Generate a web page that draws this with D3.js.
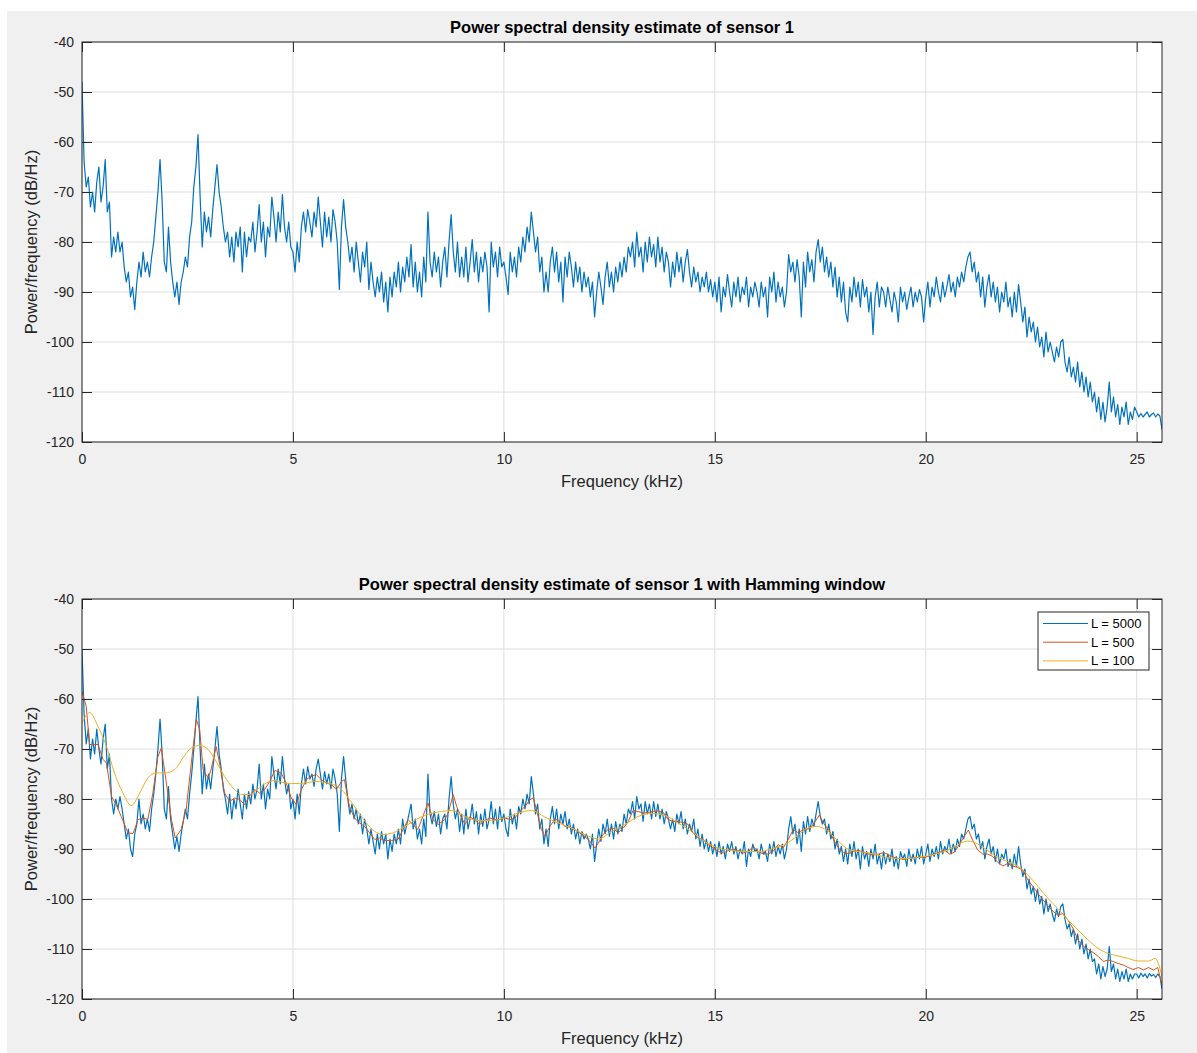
<!DOCTYPE html>
<html>
<head>
<meta charset="utf-8">
<script src="https://cdn.jsdelivr.net/npm/d3@7"></script>
<style>
body { margin: 0; background: #fff; }
text { font-family: "Liberation Sans", Arial, Helvetica, sans-serif; }
</style>
</head>
<body>
<svg id="fig" width="1197" height="1053"></svg>
<script>
// sampling step of the L = 5000 estimates (kHz)
var step5000 = 0.05;

// top panel: plain estimate, one row per kHz
var psdSensor1 = [
  -48, -64, -69, -67, -73, -70, -74, -68, -65, -72, -69, -63.5, -74, -72, -83, -79, -82, -78, -82, -80,
  -85, -88, -86, -91, -89, -93.5, -88, -84, -87, -82, -86, -84, -87, -83, -80, -75, -70, -63.5, -72, -84,
  -86, -77, -84, -88, -91, -88, -92.5, -88, -86, -83, -85, -79, -76, -69, -65, -58.5, -71, -81, -74, -78,
  -75, -79, -73.5, -69, -64.5, -70, -73, -77, -80, -78, -83, -79, -84, -78, -81, -77, -86, -78, -83, -79,
  -80, -76, -82, -78, -72.5, -80, -76, -83, -77, -79, -71, -75, -80, -74, -78, -70.5, -77, -80, -76, -81,
  -82, -86, -80, -84, -77, -74, -78, -73.5, -76, -79, -74, -77, -71, -76, -81, -74, -79, -75, -80, -73.5,
  -76, -80, -89.5, -77, -71.5, -77, -80, -84, -81, -86, -80, -84, -88, -82, -85, -80, -89.5, -84, -88, -91,
  -87, -90, -86, -92, -88, -94, -87, -91, -86, -89, -84, -90, -85, -88, -83, -87, -80.5, -89, -84, -90,
  -86, -91, -83, -88, -74, -84, -87, -82, -86, -83, -89, -84, -81, -87, -80, -74.5, -82, -86, -80, -87,
  -83, -87, -81, -88, -84, -79.5, -86, -82, -88, -83, -86, -82, -85, -94, -80, -85, -82, -87, -81, -85,
  -84, -87, -90.5, -82, -86, -83, -87, -81, -84, -79, -82, -77, -80, -74, -78, -82, -79, -86, -83, -90,
  -86, -90, -84, -81, -86, -82, -88, -84, -92, -83, -87, -82, -85, -89, -84, -88, -85, -90, -86, -89,
  -87, -91, -88, -95, -90, -86, -89, -92.5, -87, -84, -89, -86, -90, -85, -88, -84, -87, -83, -86, -81,
  -83, -80, -85, -78, -83, -81, -86, -80, -84, -79, -83, -80.5, -85, -79, -84, -81, -86, -82, -84, -89,
  -84, -87, -82, -86, -83, -88, -84, -81.5, -86, -89, -85, -88, -86, -90, -87, -89, -86, -90, -87.5, -91,
  -88, -92, -87, -94, -89, -91, -86.5, -90, -93, -88, -91, -87, -92, -89, -90.5, -87, -93, -89, -91, -88,
  -90, -93, -88, -91, -89, -95, -87, -90, -86, -92, -88, -91, -89, -93, -90, -82.5, -86, -84, -88, -83.5,
  -87, -95, -84, -89, -82, -86, -83.5, -88, -82, -79.5, -84, -81, -86, -83, -87, -84, -89, -85, -91, -87,
  -92, -88, -94, -96, -89, -92, -87, -91, -88, -93, -87.5, -91, -89, -94, -90, -98.5, -91, -88, -93, -89,
  -90, -93, -89, -91.5, -94, -90, -92, -96, -89, -92, -90, -93.5, -91, -89, -93, -90, -92, -89.5, -91, -96,
  -91, -88, -93, -89, -91, -87, -90, -92, -88, -91, -89, -86.5, -90, -88, -91, -87, -89, -86, -88, -85,
  -83, -82, -86, -84, -88, -86, -91, -87, -93, -89, -86.5, -91, -88, -92, -89, -94, -90, -92, -88, -93,
  -91, -95, -90, -94, -88.5, -92, -96, -93, -99, -95, -98, -96, -100, -97, -101, -99, -103, -98, -102, -100,
  -102, -104, -101, -103, -100, -99.5, -104, -106, -103, -107, -105, -108, -104, -109, -106, -110, -107, -111, -108, -112,
  -110, -114, -111, -115.5, -112, -116, -113, -108, -114, -111, -115, -112.5, -116.5, -113, -115, -112, -116.5, -114, -115.5, -113,
  -114, -115, -114.3, -115, -114.5, -114, -115, -114.5, -114.2, -115, -114.4, -114.8, -117.5
];

// bottom panel, Hamming window L = 5000
var psdHam5000 = [
  -50, -63, -69, -66, -72, -68, -71, -66, -70, -73, -68, -65, -74, -71, -80, -83, -80, -82, -79.5, -82,
  -85, -88, -86, -90, -91.5, -87, -85, -80, -85, -83, -86, -84, -86.5, -82, -79, -75, -70, -64, -71, -82,
  -84, -77.5, -84, -87, -90, -87.5, -90.5, -87, -84.5, -82, -84, -79, -75, -70, -64.5, -59.5, -70, -79, -73, -78,
  -75, -78, -74, -70, -65.5, -71, -74, -78, -80, -83, -79, -84, -80, -82, -78, -81, -84, -79, -82, -78.5,
  -81, -77, -80, -78, -73, -80, -77, -82, -78, -80, -71.5, -75, -78, -74, -77, -71.5, -76, -79, -77, -82,
  -80, -84, -79, -83, -77, -74, -77, -73.5, -76, -75, -77.5, -74, -72, -75, -78, -74.5, -77, -75, -78, -74,
  -76, -79, -86.5, -76, -71.5, -76, -80, -83, -81, -84, -82, -85, -83, -87, -84, -86, -89, -86, -88.5, -91,
  -87, -90, -86.5, -89, -87, -92, -88, -90.5, -87, -89, -86, -89, -84, -87, -85, -83, -81, -86, -84, -88,
  -86, -89, -84, -87.5, -75, -83, -85, -82.5, -85.5, -83, -87, -84, -83, -86, -80, -75.5, -81, -84, -82, -86.5,
  -83, -87, -82, -86, -84, -81, -85, -82.5, -87, -83, -85.5, -82, -86, -84, -80.5, -85, -82, -86, -81.5, -84.5,
  -83, -86, -87.5, -82, -85, -83, -86, -81.5, -83, -80, -82, -79, -81, -75.5, -79, -83, -81, -86, -84, -89,
  -86, -89.5, -84, -81.5, -85, -82, -86, -83, -85, -82.5, -86, -84, -87, -85, -88, -86, -89, -86.5, -88, -87,
  -88, -90, -87, -92.5, -89, -86, -88.5, -85, -87, -84, -87.5, -85, -88, -84.5, -87, -85, -86.5, -83, -85, -82,
  -83, -80.5, -84, -79.5, -82, -81, -84.5, -80.5, -83, -81, -84, -80.5, -83.5, -81, -84, -82, -85, -82.5, -84, -86,
  -84, -86.5, -83, -85, -82.5, -86, -84, -87, -85, -86.5, -84, -88, -86, -89.5, -87, -90, -88, -90.5, -88.5, -91,
  -89, -91.5, -88.5, -91, -89.5, -92, -89, -90.5, -88.5, -91, -89.5, -92, -90, -91, -88.5, -93.5, -90, -91.5, -89, -90.5,
  -90, -92, -89, -91, -90.5, -92.5, -89, -91, -88.5, -91.5, -89.5, -91, -89, -92, -90, -86, -83.5, -87, -85, -89,
  -86, -90.5, -84.5, -87, -83.5, -86.5, -84, -85.5, -83, -80.5, -83.5, -85, -84, -87, -85, -88, -86.5, -90, -88, -91,
  -89.5, -92.5, -90, -93, -89, -91.5, -88.5, -92, -90, -94, -89.5, -92, -90.5, -93.5, -90, -92, -89, -93, -91, -94,
  -90.5, -93, -91, -92.5, -90, -93.5, -91.5, -94, -90.5, -92, -91, -93.5, -90, -92.5, -91, -93, -90, -92, -89.5, -93,
  -91, -89, -92.5, -90, -91.5, -89.5, -92, -88.5, -91, -89.5, -90.5, -88, -91, -89, -90.5, -88, -89.5, -87, -88, -86,
  -84, -83.5, -86, -85, -88, -87, -90, -88.5, -92, -89.5, -88, -91, -89.5, -92.5, -90, -93, -91, -92, -90, -93.5,
  -92, -94, -91, -93.5, -89.5, -93, -95.5, -94, -98, -96, -99, -97.5, -100.5, -98, -101, -99.5, -103, -100, -102.5, -101,
  -103, -104.5, -102, -103.5, -101.5, -101, -104, -106, -105, -107.5, -106, -109, -107, -110, -108, -111, -109, -112, -110, -112.5,
  -112, -115, -113, -116, -113.5, -115.5, -114, -109.5, -114.5, -113, -116, -114, -116.5, -114.5, -116, -114, -116.5, -115, -116, -115,
  -115, -115.8, -114.8, -115.5, -115, -115.8, -114.9, -115.4, -115.1, -115.7, -115, -115.5, -118
];

// Hamming window L = 500
var freq500 = [0, 0.1, 0.18, 0.38, 0.5, 0.58, 0.7, 0.81, 0.93, 1.09, 1.21, 1.33, 1.45, 1.56, 1.68, 1.8, 1.88, 2.0,
  2.12, 2.21, 2.35, 2.47, 2.59, 2.71, 2.79, 2.87, 2.99, 3.06, 3.18, 3.26, 3.38, 3.5, 3.62, 3.74, 3.85, 3.97,
  4.09, 4.21, 4.33, 4.45, 4.57, 4.64, 4.72, 4.84, 4.96, 5.08, 5.2, 5.32, 5.43, 5.55, 5.67, 5.79, 5.91, 6.03,
  6.15, 6.22, 6.34, 6.46, 6.58, 6.7, 6.82, 6.94, 7.05, 7.17, 7.33, 7.49, 7.61, 7.73, 7.84, 7.96, 8.08, 8.2,
  8.32, 8.44, 8.6, 8.68, 8.8, 8.88, 9.0, 9.08, 9.19, 9.31, 9.43, 9.55, 9.67, 9.79, 9.91, 10.02, 10.14, 10.26,
  10.38, 10.5, 10.62, 10.7, 10.77, 10.89, 10.97, 11.09, 11.21, 11.33, 11.45, 11.56, 11.68, 11.8, 11.92, 12.04,
  12.16, 12.24, 12.35, 12.47, 12.59, 12.71, 12.83, 12.95, 13.06, 13.18, 13.3, 13.42, 13.54, 13.66, 13.78,
  13.89, 14.01, 14.13, 14.25, 14.37, 14.49, 14.61, 14.72, 14.84, 14.96, 15.08, 15.2, 15.32, 15.43, 15.55,
  15.67, 15.79, 15.91, 16.03, 16.15, 16.26, 16.38, 16.5, 16.62, 16.74, 16.86, 16.97, 17.1, 17.26, 17.38,
  17.48, 17.58, 17.7, 17.82, 17.94, 18.06, 18.17, 18.29, 18.41, 18.53, 18.65, 18.77, 18.89, 19.0, 19.13,
  19.25, 19.37, 19.48, 19.6, 19.72, 19.84, 19.96, 20.08, 20.2, 20.32, 20.44, 20.56, 20.67, 20.79, 20.91,
  21.01, 21.11, 21.23, 21.35, 21.47, 21.59, 21.71, 21.83, 21.94, 22.06, 22.18, 22.3, 22.42, 22.54, 22.66,
  22.78, 22.9, 23.02, 23.13, 23.25, 23.37, 23.49, 23.61, 23.73, 23.85, 23.97, 24.09, 24.21, 24.33, 24.44,
  24.56, 24.68, 24.8, 24.92, 25.04, 25.16, 25.28, 25.4, 25.5, 25.6];
var psdHam500 = [-58.5, -61.5, -69.1, -69.1, -72.1, -72.8, -79.5, -81.1, -83.5, -86.8, -86.9, -84.1, -83.8, -84.1, -78.8, -71.5, -69.8, -76.8,
  -84.1, -87.8, -86.1, -82.1, -72.8, -64.1, -66.1, -74.1, -75.8, -74.1, -69.5, -72.8, -78.8, -80.5, -79.8, -80.1, -81.1, -79.5,
  -78.1, -78.8, -78.1, -76.5, -74.3, -74.5, -74.8, -76.8, -79.8, -81.1, -78.1, -76.1, -75.5, -75.1, -76.1, -76.8, -77.1, -78.1,
  -76.5, -76.1, -81.5, -83.8, -84.8, -85.5, -86.8, -88.1, -87.8, -88.3, -88.3, -88.1, -86.1, -84.1, -85.1, -86.1, -83.5, -80.8,
  -84.1, -85.1, -84.1, -82.8, -79.1, -81.5, -83.8, -85.1, -83.6, -84.1, -85.1, -84.3, -83.8, -84.1, -84.1, -83.8, -84.1, -83.8,
  -82.5, -81.5, -80.1, -79.8, -82.1, -86.1, -87.5, -85.5, -84.0, -84.5, -85.5, -85.6, -86.1, -86.8, -87.5, -88.5,
  -89.8, -88.8, -87.1, -86.1, -85.8, -86.8, -85.8, -84.5, -82.3, -82.5, -82.8, -82.7, -82.5, -82.4, -82.7,
  -84.1, -84.5, -84.5, -84.7, -85.1, -86.8, -87.8, -88.1, -89.1, -89.8, -90.5, -90.8, -90.3, -90.1, -90.3,
  -90.8, -90.5, -89.5, -90.5, -91.0, -91.0, -90.5, -89.1, -89.8, -88.1, -86.1, -86.7, -86.2, -85.9, -84.5,
  -83.2, -84.9, -86.2, -88.2, -89.9, -90.7, -90.9, -90.5, -90.3, -90.6, -91.0, -91.2, -91.0, -90.7, -91.2,
  -91.7, -91.9, -92.1, -91.9, -91.7, -91.7, -91.7, -91.4, -91.0, -90.7, -90.2, -91.0, -90.7, -89.2, -87.5,
  -86.2, -88.2, -90.2, -91.0, -91.0, -91.5, -92.7, -93.4, -92.9, -93.4, -93.7, -94.2, -96.2, -97.5, -98.9,
  -100.2, -101.4, -102.5, -103.2, -102.9, -104.2, -105.9, -108.2, -109.4, -110.1, -110.7, -111.5, -112.5, -112.2, -112.5,
  -112.9, -113.2, -113.7, -114.1, -113.7, -114.2, -113.7, -114.2, -113.7, -117.2];

// Hamming window L = 100
var freq100 = [0, 0.18, 0.38, 0.58, 0.77, 0.97, 1.17, 1.37, 1.56, 1.76, 1.96, 2.2, 2.39, 2.59, 2.79, 2.99, 3.18,
  3.38, 3.58, 3.78, 3.97, 4.17, 4.37, 4.57, 4.76, 4.96, 5.16, 5.36, 5.55, 5.75, 5.95, 6.15, 6.34, 6.54, 6.74,
  6.94, 7.13, 7.33, 7.53, 7.73, 7.92, 8.12, 8.32, 8.52, 8.76, 9.08, 9.39, 9.71, 10.02, 10.34, 10.66, 10.97,
  11.29, 11.6, 11.92, 12.24, 12.55, 12.87, 13.18, 13.5, 13.82, 14.13, 14.45, 14.76, 15.08, 15.39, 15.71, 16.03,
  16.34, 16.66, 16.97, 17.18, 17.42, 17.66, 17.9, 18.13, 18.37, 18.61, 18.85, 19.09, 19.33, 19.56, 19.8, 20.04,
  20.28, 20.52, 20.75, 20.99, 21.23, 21.47, 21.71, 21.94, 22.18, 22.42, 22.66, 22.9, 23.13, 23.37, 23.61, 23.85,
  24.09, 24.33, 24.56, 24.8, 25.04, 25.28, 25.44, 25.6];
var psdHam100 = [-64.8, -62.7, -65.5, -69.5, -74.8, -78.8, -81.3, -78.8, -75.8, -74.8, -74.8, -74.1, -71.8, -69.8, -69.3, -70.1, -72.5,
  -75.5, -77.8, -79.1, -79.1, -78.0, -76.8, -76.3, -76.7, -76.9, -76.9, -76.7, -76.5, -76.7, -77.1, -78.1, -80.1, -82.5, -84.8,
  -86.5, -87.1, -86.9, -86.1, -85.1, -84.1, -83.3, -82.8, -82.5, -82.3, -83.5, -84.3, -84.3, -83.8, -82.8, -82.3, -83.6,
  -84.8, -85.8, -87.1, -88.0, -86.5, -85.1, -83.5, -82.9, -83.3, -84.8, -86.5, -88.5, -89.8, -90.3, -90.5, -90.5,
  -90.0, -89.1, -87.3, -85.9, -85.5, -86.3, -88.2, -89.9, -90.5, -90.7, -91.2, -91.7, -91.9, -91.9, -91.7, -91.4,
  -90.9, -90.2, -89.2, -88.4, -89.0, -90.3, -91.7, -92.5, -93.4, -95.2, -97.5, -99.9, -101.9, -104.2, -106.2, -108.2,
  -109.9, -110.9, -111.4, -111.9, -112.4, -112.4, -111.9, -115.5];

var xTicks = [0, 5, 10, 15, 20, 25];
var yTicks = [-120, -110, -100, -90, -80, -70, -60, -50, -40];
var legendLabels = ["L = 5000", "L = 500", "L = 100"];
var colors = ["#0072bd", "#d95319", "#edb120"];

var svg = d3.select("#fig");

// figure background
svg.append("rect").attr("x", 7).attr("y", 11).attr("width", 1190).attr("height", 1042).attr("fill", "#f0f0f0");

var x = d3.scaleLinear().domain([0, 25.6]).range([82, 1162]);

function toPoints(freqs, vals) {
    return vals.map(function(v, i) { return [freqs[i], v]; });
}
function gridPoints(vals) {
    return vals.map(function(v, i) { return [i * step5000, v]; });
}
// plain hyphen like the original, not the unicode minus
var plainNum = function(d) { return String(d); };

function drawPanel(top, id, title, series, showLegend) {
    var bottom = top + 400;
    var y = d3.scaleLinear().domain([-120, -40]).range([bottom, top]);
    var g = svg.append("g");

    g.append("rect").attr("x", 82).attr("y", top).attr("width", 1080).attr("height", 400).attr("fill", "#fff");

    // grid
    g.selectAll(".gx").data(xTicks).join("line")
        .attr("x1", d => x(d)).attr("x2", d => x(d))
        .attr("y1", top).attr("y2", bottom)
        .attr("stroke", "#dedede").attr("stroke-width", 1);
    g.selectAll(".gy").data(yTicks).join("line")
        .attr("x1", 82).attr("x2", 1162)
        .attr("y1", d => y(d)).attr("y2", d => y(d))
        .attr("stroke", "#dedede").attr("stroke-width", 1);

    g.append("clipPath").attr("id", id)
        .append("rect").attr("x", 82).attr("y", top).attr("width", 1080).attr("height", 400);

    var line = d3.line().x(d => x(d[0])).y(d => y(d[1]));
    series.forEach(function(s) {
        g.append("path")
            .datum(s.points)
            .attr("clip-path", "url(#" + id + ")")
            .attr("fill", "none")
            .attr("stroke", s.color)
            .attr("stroke-width", s.width || 1)
            .attr("stroke-linejoin", "round")
            .attr("d", line.curve(s.curve || d3.curveLinear));
    });

    // axes, ticks pointing inward
    var axB = g.append("g").attr("transform", "translate(0," + bottom + ")")
        .call(d3.axisBottom(x).tickValues(xTicks).tickSize(-10).tickSizeOuter(0).tickPadding(12).tickFormat(plainNum));
    var axT = g.append("g").attr("transform", "translate(0," + top + ")")
        .call(d3.axisTop(x).tickValues(xTicks).tickSize(-10).tickSizeOuter(0).tickFormat(""));
    var axL = g.append("g").attr("transform", "translate(82,0)")
        .call(d3.axisLeft(y).tickValues(yTicks).tickSize(-10).tickSizeOuter(0).tickPadding(8).tickFormat(plainNum));
    var axR = g.append("g").attr("transform", "translate(1162,0)")
        .call(d3.axisRight(y).tickValues(yTicks).tickSize(-10).tickSizeOuter(0).tickFormat(""));
    [axB, axT, axL, axR].forEach(function(a) {
        a.select(".domain").remove();
        a.selectAll(".tick line").attr("stroke", "#262626");
        a.selectAll(".tick text").attr("fill", "#262626").style("font-size", "14px")
            .style("font-family", "'Liberation Sans', Arial, sans-serif");
    });

    g.append("rect").attr("x", 82).attr("y", top).attr("width", 1080).attr("height", 400)
        .attr("fill", "none").attr("stroke", "#262626").attr("stroke-width", 1);

    g.append("text").attr("x", 622).attr("y", top - 9)
        .attr("text-anchor", "middle").attr("font-weight", "bold").attr("font-size", "16.5px")
        .attr("fill", "#000").text(title);
    g.append("text").attr("x", 622).attr("y", bottom + 45)
        .attr("text-anchor", "middle").attr("font-size", "16.5px").attr("fill", "#262626")
        .text("Frequency (kHz)");
    g.append("text").attr("transform", "translate(37," + (top + 200) + ") rotate(-90)")
        .attr("text-anchor", "middle").attr("font-size", "16.5px").attr("fill", "#262626")
        .text("Power/frequency (dB/Hz)");

    if (showLegend) {
        var lg = g.append("g");
        lg.append("rect").attr("x", 1038).attr("y", 612).attr("width", 111).attr("height", 58)
            .attr("fill", "#fff").attr("stroke", "#262626").attr("stroke-width", 1);
        var rows = lg.selectAll(".lrow").data(legendLabels).join("g")
            .attr("transform", (d, i) => "translate(0," + (623.5 + i * 18.7) + ")");
        rows.append("line").attr("x1", 1043).attr("x2", 1088).attr("y1", 0).attr("y2", 0)
            .attr("stroke", (d, i) => colors[i]).attr("stroke-width", 1);
        rows.append("text").attr("x", 1091).attr("y", 4.5).attr("font-size", "13px")
            .attr("fill", "#000").text(d => d);
    }
}

drawPanel(42, "clipTop", "Power spectral density estimate of sensor 1",
    [{ points: gridPoints(psdSensor1), color: colors[0], width: 1.2 }], false);

drawPanel(599, "clipBottom", "Power spectral density estimate of sensor 1 with Hamming window",
    [{ points: gridPoints(psdHam5000), color: colors[0], width: 1.2 },
     { points: toPoints(freq500, psdHam500), color: colors[1] },
     { points: toPoints(freq100, psdHam100), color: colors[2], curve: d3.curveMonotoneX }], true);
</script>
</body>
</html>
